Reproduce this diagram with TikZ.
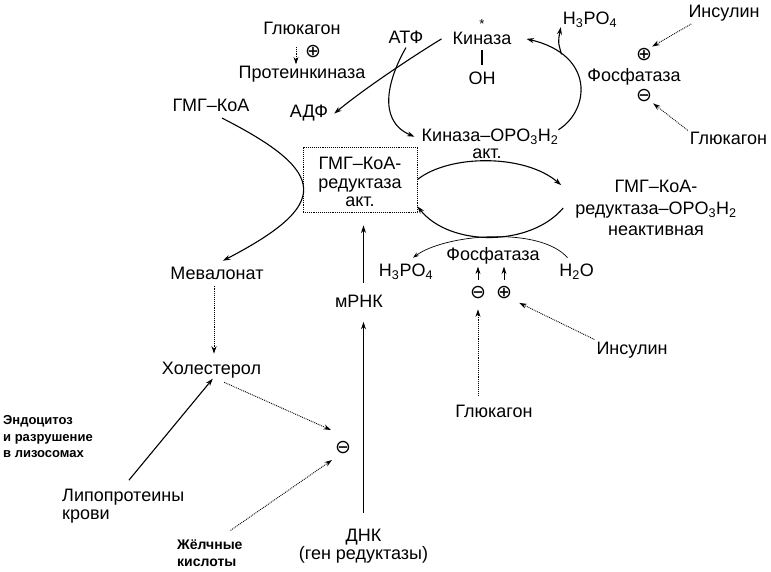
\documentclass[tikz,border=0pt]{standalone}
\usepackage{fontspec}
\setmainfont{Liberation Sans}
\newfontfamily\signfont{DejaVu Sans}
\usetikzlibrary{arrows.meta}

\begin{document}
\begin{tikzpicture}[x=1pt,y=-1pt,
  lbl/.style={font=\fontsize{18}{21.5}\selectfont, inner sep=2pt},
  note/.style={font=\fontsize{13}{16.5}\selectfont\bfseries, inner sep=2pt, align=left},
  sgn/.style={font=\fontsize{19}{19}\signfont, inner sep=0pt},
  arr/.style={line width=1.1pt, -{Stealth[length=7.5pt,width=5pt]}},
  dotarr/.style={arr, line width=0.9pt, densely dotted},
  redbox/.style={draw, line width=0.9pt, densely dotted, minimum width=114pt, minimum height=65pt, inner sep=0pt}]

\useasboundingbox (0,0) rectangle (771,572);

% Glucagon -> protein kinase (top left)
\node[lbl, anchor=base] (glukTop) at (302,34.5) {Глюкагон};
\node[sgn] (plusT) at (313,52) {⊕};
\node[lbl, anchor=base] (protkin) at (302,79) {Протеинкиназа};

% Kinase cycle
\node[lbl, anchor=base] (atf) at (406,43.3) {АТФ};
\node[lbl, anchor=base] (adf) at (309,118) {АДФ};
\node[font=\fontsize{13}{13}\selectfont, inner sep=0pt, anchor=base] (star) at (482,28.5) {*};
\node[lbl, anchor=base] (kin) at (482,45) {Киназа};
\node[lbl, anchor=base] (oh) at (482,85) {OH};
\node[lbl, inner sep=0pt, anchor=base] (kinp) at (490,141.5) {Киназа–OPO\textsubscript{3}H\textsubscript{2}};
\node[lbl, inner sep=0pt, anchor=base] (akt) at (487,159) {акт.};
\node[lbl, anchor=base] (h3po4T) at (590,25) {H\textsubscript{3}PO\textsubscript{4}};
\node[lbl, anchor=base] (fosfT) at (634,81.5) {Фосфатаза};
\node[sgn] (plusR) at (644,55) {⊕};
\node[sgn] (minusR) at (644,96) {⊖};
\node[lbl, anchor=base] (insT) at (724,18) {Инсулин};
\node[lbl, anchor=base] (glukR) at (728.5,145) {Глюкагон};

% Reductase, active and phosphorylated
\node[redbox] (box) at (360,179.5) {};
\node[lbl, font=\fontsize{18}{18.5}\selectfont, align=center, anchor=north] (boxtxt) at (360,155.1) {ГМГ–КоА-\\редуктаза\\акт.};
\node[lbl, align=center, anchor=north] (redI) at (656,178.1) {ГМГ–КоА-\\редуктаза–OPO\textsubscript{3}H\textsubscript{2}\\неактивная};

% Phosphatase (bottom)
\node[lbl, anchor=base] (fosfB) at (493,260.7) {Фосфатаза};
\node[lbl, anchor=base] (h3po4B) at (406,276.5) {H\textsubscript{3}PO\textsubscript{4}};
\node[lbl, anchor=base] (h2o) at (576.5,276.5) {H\textsubscript{2}O};
\node[sgn] (minusB) at (478,293) {⊖};
\node[sgn] (plusB) at (504,293) {⊕};
\node[lbl, anchor=base] (glukB) at (494,417) {Глюкагон};
\node[lbl, anchor=base] (insB) at (632,354) {Инсулин};

% Left column
\node[lbl, anchor=base] (gmgkoa) at (211,111.7) {ГМГ–КоА};
\node[lbl, anchor=base] (meval) at (217,279.3) {Мевалонат};
\node[lbl, anchor=base] (chol) at (211.5,374.3) {Холестерол};
\node[note, anchor=north west] (endo) at (1,413.7) {Эндоцитоз\\и разрушение\\в лизосомах};
\node[lbl, font=\fontsize{18}{18}\selectfont, align=left, anchor=north west] (lipo) at (60,487.1) {Липопротеины\\крови};
\node[note, font=\fontsize{14}{17}\selectfont\bfseries, anchor=north west] (zhelch) at (175,537.8) {Жёлчные\\кислоты};
\node[sgn] (minusL) at (343,448) {⊖};

% Gene
\node[lbl, anchor=base] (mrnk) at (359,307.7) {мРНК};
\node[lbl, font=\fontsize{18}{18}\selectfont, align=center, anchor=north] (dnk) at (363.5,526.8) {ДНК\\(ген редуктазы)};

% Arrows, top left
\draw[dotarr, shorten <=10pt] ([xshift=-6pt]glukTop.south) -- ([xshift=-6pt]protkin.north);

% Kinase cycle arrows
\draw[arr] ([yshift=-2pt]atf.south) .. controls (390,75) and (375,120) .. ([xshift=-7pt]kinp.west);
\draw[arr] ([xshift=-9pt]kin.west) .. controls (415,55) and (365,88) .. ([xshift=4pt]adf.east);
\draw[line width=1.1pt, shorten <=3pt, shorten >=5pt] (kin.south) -- (oh.north);
\draw[arr] ([yshift=-1pt]kinp.north east) .. controls (590,110) and (595,55) .. ([xshift=13pt]kin.east) coordinate[pos=0.78] (phR);
\draw[arr] (phR) .. controls (558,42) .. ([yshift=3pt]h3po4T.south west);
\draw[dotarr] ([xshift=5pt]insT.south west) -- ([yshift=2pt]plusR.north east);
\draw[dotarr] (glukR.north west) -- ([shift={(1,1)}]minusR.south east);

% Reductase interconversion
\draw[arr] (box.east) .. controls (450,154) and (525,154) .. ([shift={(-12,-23)}]redI.west);
\draw[arr] ([xshift=-10pt]redI.west) .. controls (530,247) and (450,247) .. ([yshift=6pt]box.south east);
\draw[line width=0.7pt, -{Stealth[length=6pt,width=4pt]}] ([shift={(-9,-4)}]h2o.north) .. controls (540,226) and (445,234) .. ([shift={(7,-4)}]h3po4B.north);
\draw[arr, line width=0.9pt, shorten <=7pt] (minusB.north) -- (minusB.north |- fosfB.south);
\draw[arr, line width=0.9pt, shorten <=7pt] (plusB.north) -- (plusB.north |- fosfB.south);
\draw[dotarr, shorten <=7pt, shorten >=10pt] (minusB |- glukB.north) -- (minusB.south);
\draw[dotarr, shorten >=8pt] (insB.north west) -- (plusB.south east);

% Left column arrows
\draw[arr] ([shift={(11,4)}]gmgkoa.south) .. controls (330,173) and (330,205) .. ([shift={(6,-4)}]meval.north);
\draw[dotarr, shorten <=4pt, shorten >=6pt] ([xshift=-3pt]meval.south) -- ([xshift=-3pt]meval.south |- chol.north);
\draw[arr, shorten <=9pt, shorten >=-2pt] (lipo.north) -- (chol.south);
\draw[dotarr, shorten <=5pt] ([xshift=8pt]chol.south) -- ([shift={(-12,-18)}]minusL.center);
\draw[dotarr, shorten <=13pt] ([xshift=10pt]zhelch.north) -- ([shift={(-11,12)}]minusL.center);

% DNA -> mRNA -> reductase
\draw[arr, line width=1.3pt, shorten <=14pt, shorten >=12pt] (dnk.north) -- (dnk.north |- mrnk.south);
\draw[arr, shorten <=10pt, shorten >=13pt] (dnk.north |- mrnk.north) -- (dnk.north |- box.south);

\end{tikzpicture}
\end{document}
